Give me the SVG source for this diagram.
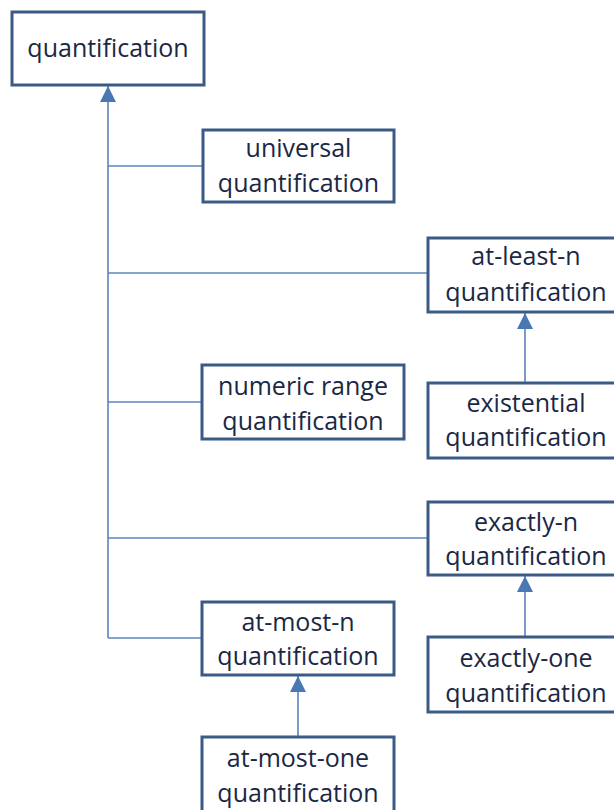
<svg xmlns="http://www.w3.org/2000/svg" width="614" height="810" viewBox="0 0 614 810">
  <style>
    .box { fill: #ffffff; stroke: #3b5b86; stroke-width: 3; }
    .lbl { font-family: "Open Sans", "Noto Sans", sans-serif; font-size: 25px; fill: #1b2845; text-anchor: middle; }
    .conn { fill: none; stroke: #5b84bd; stroke-width: 1.6; }
  </style>
  <defs>
    <marker id="tri" markerUnits="userSpaceOnUse" markerWidth="16" markerHeight="16" viewBox="0 0 14 14" refX="14" refY="7" orient="auto">
      <path d="M0,0 L14,7 L0,14 Z" fill="#4a78b5"/>
    </marker>
  </defs>

  <g id="connectors">
    <!-- trunk up to the root node -->
    <line class="conn" x1="108" y1="638" x2="108" y2="86" marker-end="url(#tri)"/>
    <line class="conn" x1="108" y1="166" x2="203" y2="166"/>
    <line class="conn" x1="108" y1="273" x2="428" y2="273"/>
    <line class="conn" x1="108" y1="402" x2="202" y2="402"/>
    <line class="conn" x1="108" y1="538" x2="428" y2="538"/>
    <line class="conn" x1="108" y1="638" x2="202" y2="638"/>
    <!-- specialisations -->
    <line class="conn" x1="525" y1="383" x2="525" y2="313" marker-end="url(#tri)"/>
    <line class="conn" x1="525" y1="637" x2="525" y2="576" marker-end="url(#tri)"/>
    <line class="conn" x1="298" y1="737" x2="298" y2="676" marker-end="url(#tri)"/>
  </g>

  <g id="quantification">
    <rect class="box" x="12" y="12" width="192" height="73"/>
    <text class="lbl" x="108" y="57">quantification</text>
  </g>
  <g id="universal">
    <rect class="box" x="203" y="130" width="191" height="72"/>
    <text class="lbl" x="298.5" y="157">universal</text>
    <text class="lbl" x="298.5" y="192">quantification</text>
  </g>
  <g id="at-least-n">
    <rect class="box" x="428" y="238" width="196" height="74"/>
    <text class="lbl" x="526" y="265">at-least-n</text>
    <text class="lbl" x="526" y="301">quantification</text>
  </g>
  <g id="numeric-range">
    <rect class="box" x="202" y="365" width="202" height="74"/>
    <text class="lbl" x="303" y="395">numeric range</text>
    <text class="lbl" x="303" y="430">quantification</text>
  </g>
  <g id="existential">
    <rect class="box" x="428" y="383" width="196" height="75"/>
    <text class="lbl" x="526" y="412">existential</text>
    <text class="lbl" x="526" y="446">quantification</text>
  </g>
  <g id="exactly-n">
    <rect class="box" x="428" y="502" width="196" height="73"/>
    <text class="lbl" x="526" y="531">exactly-n</text>
    <text class="lbl" x="526" y="565">quantification</text>
  </g>
  <g id="at-most-n">
    <rect class="box" x="202" y="602" width="192" height="73"/>
    <text class="lbl" x="298" y="631">at-most-n</text>
    <text class="lbl" x="298" y="665">quantification</text>
  </g>
  <g id="exactly-one">
    <rect class="box" x="428" y="637" width="196" height="75"/>
    <text class="lbl" x="526" y="667">exactly-one</text>
    <text class="lbl" x="526" y="702">quantification</text>
  </g>
  <g id="at-most-one">
    <rect class="box" x="202" y="737" width="192" height="80"/>
    <text class="lbl" x="298" y="767">at-most-one</text>
    <text class="lbl" x="298" y="802">quantification</text>
  </g>
</svg>
